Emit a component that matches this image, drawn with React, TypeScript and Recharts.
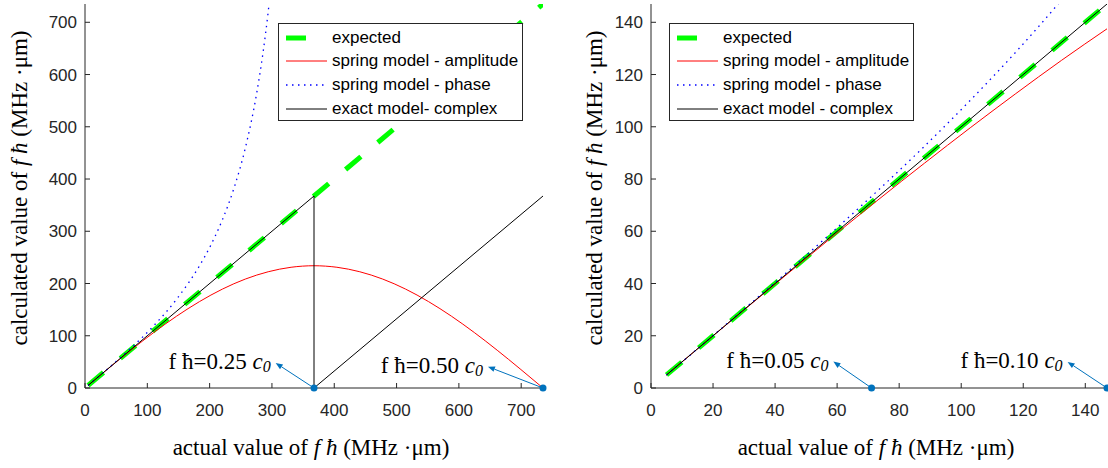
import {
  Legend,
  Line,
  LineChart,
  ReferenceDot,
  ReferenceLine,
  XAxis,
  YAxis,
} from "recharts";

// left panel: 0 .. 0.5 c0 (c0 ~ 1470 m/s)
const leftTicks = [0, 100, 200, 300, 400, 500, 600, 700];
const leftAmpX = [5, 36.75, 73.5, 110.25, 147, 183.75, 220.5, 257.25, 294, 330.75, 367.5, 404.25, 441, 477.75, 514.5, 551.25, 588, 624.75, 661.5, 698.25, 735];
const leftAmp = [5.0, 36.6, 72.3, 106.2, 137.5, 165.4, 189.3, 208.5, 222.5, 231.1, 234.0, 231.1, 222.5, 208.5, 189.3, 165.4, 137.5, 106.2, 72.3, 36.6, 0];
const leftPhaseX = [5, 36.75, 73.5, 110.25, 147, 183.75, 202.1, 220.5, 238.9, 257.25, 275.6, 285.8, 294, 302.2];
const leftPhase = [5.0, 37.1, 76.0, 119.2, 170.0, 234.0, 273.9, 322.0, 381.8, 459.2, 564.8, 642.8, 720.1, 815.9];
const leftExpectedX = [5, 735];
const leftExpected = [5, 735];
const leftExactX = [5, 367.5, 367.5, 735];
const leftExact = [5, 367.5, 0, 367.5];

// right panel: 0 .. 0.1 c0
const rightTicks = [0, 20, 40, 60, 80, 100, 120, 140];
const rightX = [5, 14.7, 29.4, 44.1, 58.8, 73.5, 88.2, 102.9, 117.6, 132.3, 147];
const rightAmp = [5.0, 14.7, 29.3, 43.8, 58.2, 72.3, 86.1, 99.6, 112.7, 125.4, 137.5];
const rightPhase = [5.0, 14.7, 29.6, 44.6, 60.1, 76.0, 92.6, 110.1, 128.6, 148.5, 170.0];
const rightExpectedX = [5, 147];
const rightExpected = [5, 147];

// annotations: marker on the axis, arrow tip (data units), label
const leftNotes = [
  { at: 367.5, tipX: 306, tipY: 47.9, label: "0.25" },
  { at: 735, tipX: 646.7, tipY: 40.8, label: "0.50" },
];
const rightNotes = [
  { at: 71.1, tipX: 58.8, tipY: 10.1, label: "0.05" },
  { at: 147, tipX: 134.3, tipY: 10.0, label: "0.10" },
];

const legendOrder = ["expected", "spring model - amplitude", "spring model - phase", "exact model"];

const zip = (xs: number[], ys: number[]) => xs.map((x, i) => ({ x, y: ys[i] }));

const AXIS = "#262626";
const SANS = "'Liberation Sans', Arial, sans-serif";
const SERIF = "'Liberation Serif', 'Times New Roman', serif";
const tickFont = { fontFamily: SANS, fontSize: 17, fill: AXIS };
const BLUE = "#0072BD";

const orderOf = (name: string) => legendOrder.findIndex((n) => name.startsWith(n));

function LegendBox({ payload }: any) {
  const items = [...(payload || [])].sort((a: any, b: any) => orderOf(a.value) - orderOf(b.value));
  return (
    <div
      style={{
        width: 245,
        height: 98,
        boxSizing: "border-box",
        border: `1px solid ${AXIS}`,
        background: "#fff",
        paddingTop: 2,
        fontFamily: SANS,
        fontSize: 17,
        color: "#000",
      }}
    >
      {items.map((p: any) => (
        <div key={p.value} style={{ display: "flex", alignItems: "center", height: 23.6 }}>
          <svg width={53} height={12} style={{ flex: "none" }}>
            <line
              x1={7}
              x2={48}
              y1={6}
              y2={6}
              stroke={p.color}
              strokeWidth={p.payload?.strokeWidth ?? 1}
              strokeDasharray={p.payload?.strokeDasharray}
            />
          </svg>
          <span style={{ whiteSpace: "nowrap", lineHeight: "20px" }}>{p.value}</span>
        </div>
      ))}
    </div>
  );
}

const arrowShape = (label: string) => (props: any) => {
  const { x1, y1, x2, y2 } = props;
  const dx = x2 - x1;
  const dy = y2 - y1;
  const len = Math.hypot(dx, dy) || 1;
  const ux = dx / len;
  const uy = dy / len;
  const bx = x2 - ux * 7;
  const by = y2 - uy * 7;
  const pts = `${x2},${y2} ${bx - uy * 2.8},${by + ux * 2.8} ${bx + uy * 2.8},${by - ux * 2.8}`;
  return (
    <g>
      <line x1={x1} y1={y1} x2={bx} y2={by} stroke={BLUE} strokeWidth={1} />
      <polygon points={pts} fill={BLUE} />
      <text x={x2 - 5} y={y2 + 6} textAnchor="end" fontFamily={SERIF} fontSize={23} fill="#000">
        {`f ħ=${label} `}
        <tspan fontStyle="italic">c</tspan>
        <tspan fontStyle="italic" fontSize={16} dy={3}>0</tspan>
      </text>
    </g>
  );
};

const xLabel = (props: any) => {
  const vb = props.viewBox;
  return (
    <text x={vb.x + vb.width / 2 - 3} y={vb.y + 67} textAnchor="middle" fontFamily={SERIF} fontSize={23} fill="#000">
      actual value of <tspan fontStyle="italic">f ħ</tspan> (MHz ·μm)
    </text>
  );
};

const yLabel = (dx: number) => (props: any) => {
  const vb = props.viewBox;
  const cx = vb.x + dx;
  const cy = vb.y + vb.height / 2 - 8;
  return (
    <text
      x={cx}
      y={cy}
      transform={`rotate(-90 ${cx} ${cy})`}
      textAnchor="middle"
      dominantBaseline="central"
      fontFamily={SERIF}
      fontSize={23}
      fill="#000"
    >
      calculated value of <tspan fontStyle="italic">f ħ</tspan> (MHz ·μm)
    </text>
  );
};

interface PanelProps {
  max: number;
  ticks: number[];
  expected: { x: number; y: number }[];
  amplitude: { x: number; y: number }[];
  phase: { x: number; y: number }[];
  exact: { x: number; y: number }[];
  exactName: string;
  notes: { at: number; tipX: number; tipY: number; label: string }[];
  width: number;
  rightMargin: number;
  legendLeft: number;
  yLabelX: number;
}

function Panel(p: PanelProps) {
  const dom: [number, number] = [0, p.max];
  return (
    <LineChart
      width={p.width}
      height={468}
      margin={{ top: 4, right: p.rightMargin, bottom: 0, left: 0 }}
    >
      <XAxis
        type="number"
        dataKey="x"
        domain={dom}
        ticks={p.ticks}
        interval={0}
        allowDataOverflow
        height={80}
        tickSize={-5}
        tickMargin={21}
        tick={tickFont}
        stroke={AXIS}
        label={xLabel}
      />
      <XAxis
        xAxisId="top"
        orientation="top"
        type="number"
        dataKey="x"
        domain={dom}
        ticks={p.ticks}
        interval={0}
        allowDataOverflow
        height={0}
        tickSize={-5}
        tickFormatter={() => ""}
        stroke={AXIS}
      />
      <YAxis
        type="number"
        domain={dom}
        ticks={p.ticks}
        interval={0}
        allowDataOverflow
        width={85}
        tickSize={-5}
        tickMargin={13}
        tick={tickFont}
        stroke={AXIS}
        label={yLabel(p.yLabelX)}
      />
      <YAxis
        yAxisId="right"
        orientation="right"
        type="number"
        domain={dom}
        ticks={p.ticks}
        interval={0}
        allowDataOverflow
        width={0}
        tickSize={-5}
        tickFormatter={() => ""}
        stroke={AXIS}
      />
      <Line
        data={p.expected}
        dataKey="y"
        name="expected"
        type="linear"
        stroke="#00FF00"
        strokeWidth={5}
        strokeDasharray="20 22"
        dot={false}
        isAnimationActive={false}
      />
      <Line
        data={p.amplitude}
        dataKey="y"
        name="spring model - amplitude"
        type="monotone"
        stroke="#FF0000"
        strokeWidth={1}
        dot={false}
        isAnimationActive={false}
      />
      <Line
        data={p.phase}
        dataKey="y"
        name="spring model - phase"
        type="monotone"
        stroke="#0000FF"
        strokeWidth={1.3}
        strokeDasharray="1.5 4.5"
        dot={false}
        isAnimationActive={false}
      />
      <Line
        data={p.exact}
        dataKey="y"
        name={p.exactName}
        type="linear"
        stroke="#000000"
        strokeWidth={1}
        dot={false}
        isAnimationActive={false}
      />
      {p.notes.map((n) => (
        <ReferenceLine
          key={`a${n.label}`}
          segment={[
            { x: n.at, y: 0 },
            { x: n.tipX, y: n.tipY },
          ]}
          ifOverflow="visible"
          shape={arrowShape(n.label)}
        />
      ))}
      {p.notes.map((n) => (
        <ReferenceDot
          key={`d${n.label}`}
          x={n.at}
          y={0}
          r={3.5}
          fill={BLUE}
          stroke="none"
          ifOverflow="visible"
        />
      ))}
      <Legend
        layout="vertical"
        align="center"
        verticalAlign="middle"
        itemSorter={null as any}
        content={LegendBox}
        wrapperStyle={{ top: 23, left: p.legendLeft, width: "auto", height: "auto" }}
      />
    </LineChart>
  );
}

export default function App() {
  return (
    <div style={{ position: "absolute", left: 0, top: 0, width: 1108, height: 468, background: "#fff" }}>
      <div style={{ position: "absolute", left: 0, top: 0 }}>
        <Panel
          max={735}
          ticks={leftTicks}
          expected={zip(leftExpectedX, leftExpected)}
          amplitude={zip(leftAmpX, leftAmp)}
          phase={zip(leftPhaseX, leftPhase)}
          exact={zip(leftExactX, leftExact)}
          exactName="exact model- complex"
          notes={leftNotes}
          width={560}
          rightMargin={17}
          legendLeft={278}
          yLabelX={19}
        />
      </div>
      <div style={{ position: "absolute", left: 566, top: 0 }}>
        <Panel
          max={147}
          ticks={rightTicks}
          expected={zip(rightExpectedX, rightExpected)}
          amplitude={zip(rightX, rightAmp)}
          phase={zip(rightX, rightPhase)}
          exact={zip(rightExpectedX, rightExpected)}
          exactName="exact model - complex"
          notes={rightNotes}
          width={542}
          rightMargin={1}
          legendLeft={103}
          yLabelX={28}
        />
      </div>
    </div>
  );
}
